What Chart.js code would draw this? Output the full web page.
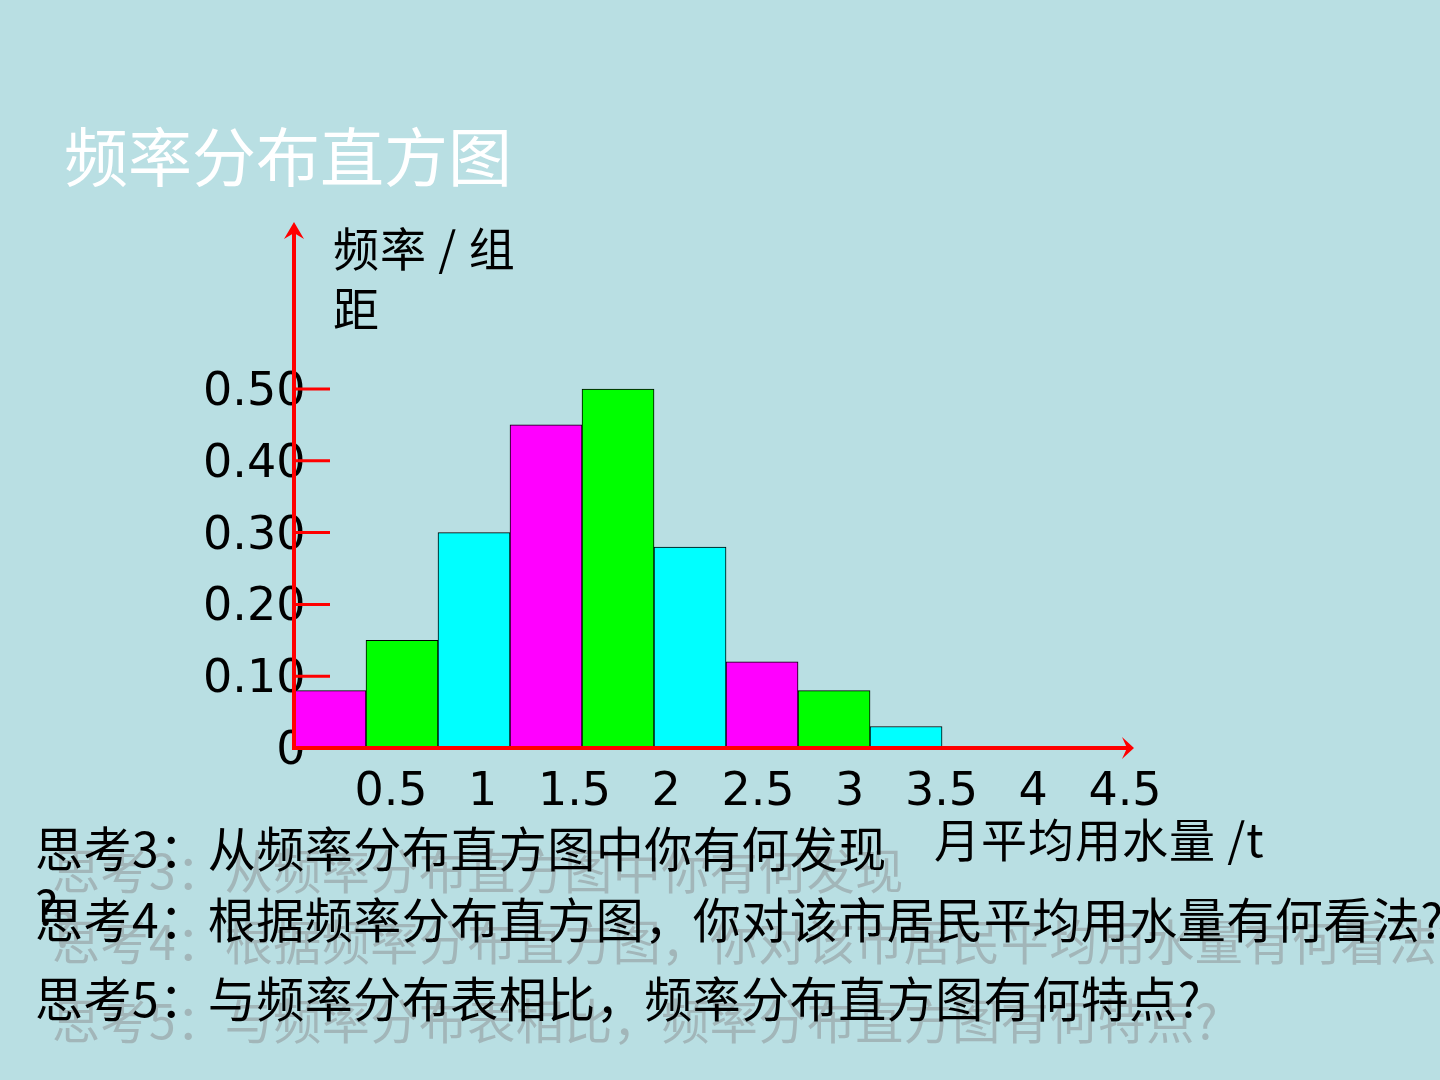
<!DOCTYPE html>
<html>
<head>
<meta charset="utf-8">
<script src="https://cdn.jsdelivr.net/npm/chart.js@4"></script>
<style>
  body { margin: 0; background: #b9dfe3; }
  #wrap { position: relative; width: 1440px; height: 1080px; overflow: hidden; }
  #c { position: absolute; left: 0; top: 0; }
  .txt { position: absolute; white-space: nowrap; font-family: "Noto Sans CJK SC", "DejaVu Sans", sans-serif; }
  .q { font-size: 48px; line-height: 60px; color: #000; letter-spacing: 0.5px; }
  .ghost { color: #a2b6b9; }
</style>
</head>
<body>
<div id="wrap">
  <canvas id="c" width="1440" height="1080"></canvas>
  <div class="txt" style="left:64px;top:107px;font-size:64px;color:#fff;">频率分布直方图</div>
  <div class="txt" style="left:333px;top:216px;font-size:46px;line-height:60px;color:#000;letter-spacing:1px;">频率 / 组<br>距</div>
  <div class="txt" style="left:934px;top:807px;font-size:46px;line-height:60px;color:#000;letter-spacing:1px;">月平均用水量 /t</div>

  <div class="txt q ghost" style="left:52px;top:839px;line-height:58px;">思考3：从频率分布直方图中你有何发现<br>?</div>
  <div class="txt q ghost" style="left:52px;top:909px;">思考4：根据频率分布直方图，你对该市居民平均用水量有何看法?</div>
  <div class="txt q ghost" style="left:52px;top:988px;">思考5：与频率分布表相比，频率分布直方图有何特点?</div>

  <div class="txt q" style="left:35px;top:817px;line-height:58px;">思考3：从频率分布直方图中你有何发现<br>?</div>
  <div class="txt q" style="left:35px;top:887px;">思考4：根据频率分布直方图，你对该市居民平均用水量有何看法?</div>
  <div class="txt q" style="left:35px;top:966px;">思考5：与频率分布表相比，频率分布直方图有何特点?</div>
</div>
<script>
// bins of monthly water use (t), left edges, width 0.5
var binLeft = [0, 0.5, 1, 1.5, 2, 2.5, 3, 3.5, 4];
var binWidth = 0.5;
// frequency / class width
var freqDensity = [0.08, 0.15, 0.30, 0.45, 0.50, 0.28, 0.12, 0.08, 0.03];
var barColors = ['#ff00ff', '#00ff00', '#00ffff'];

var yTickValues = [0, 0.1, 0.2, 0.3, 0.4, 0.5];
var yTickLabels = ['0', '0.10', '0.20', '0.30', '0.40', '0.50'];
var xTickValues = [0.5, 1, 1.5, 2, 2.5, 3, 3.5, 4, 4.5];
var xTickLabels = ['0.5', '1', '1.5', '2', '2.5', '3', '3.5', '4', '4.5'];

var points = binLeft.map(function(l, i) {
  return { x: l + binWidth / 2, y: freqDensity[i] };
});

// red axes with arrow heads and short inward tick marks
var axesPlugin = {
  id: 'redAxes',
  afterDatasetsDraw: function(chart) {
    var ctx = chart.ctx;
    var a = chart.chartArea;
    var y = chart.scales.y;
    var x0 = a.left, y0 = y.getPixelForValue(0);
    ctx.save();
    ctx.strokeStyle = '#ff0000';
    ctx.fillStyle = '#ff0000';
    ctx.lineWidth = 4;
    ctx.beginPath();
    ctx.moveTo(x0, y0 + 2);
    ctx.lineTo(x0, a.top + 10);
    ctx.moveTo(x0 - 2, y0);
    ctx.lineTo(a.right - 6, y0);
    ctx.stroke();
    // arrow heads
    ctx.beginPath();
    ctx.moveTo(x0, a.top);
    ctx.lineTo(x0 + 10, a.top + 17);
    ctx.lineTo(x0, a.top + 11);
    ctx.lineTo(x0 - 10, a.top + 17);
    ctx.closePath();
    ctx.fill();
    ctx.beginPath();
    ctx.moveTo(a.right + 1, y0);
    ctx.lineTo(a.right - 11, y0 - 11);
    ctx.lineTo(a.right - 6, y0);
    ctx.lineTo(a.right - 11, y0 + 11);
    ctx.closePath();
    ctx.fill();
    // tick marks
    ctx.lineWidth = 3;
    ctx.beginPath();
    yTickValues.forEach(function(v) {
      if (v === 0) return;
      var py = y.getPixelForValue(v);
      ctx.moveTo(x0, py);
      ctx.lineTo(x0 + 36, py);
    });
    ctx.stroke();
    ctx.restore();
  }
};

var ctx = document.getElementById('c');
var config = {
  type: 'bar',
  data: {
    datasets: [{
      data: points,
      xAxisID: 'x',
      yAxisID: 'y',
      backgroundColor: points.map(function(p, i) { return barColors[i % 3]; }),
      borderColor: '#000',
      borderWidth: 1,
      barPercentage: 1,
      categoryPercentage: 1
    }]
  },
  options: {
    responsive: false,
    animation: false,
    layout: { padding: { left: 294, right: 307, top: 222, bottom: 252 } },
    plugins: { legend: { display: false }, tooltip: { enabled: false }, title: { display: false } },
    scales: {
      x: {
        type: 'linear',
        display: false,
        offset: false,
        min: 0,
        max: 5.826
      },
      x2: {
        type: 'linear',
        position: 'bottom',
        offset: false,
        min: -0.0286,
        max: 4.5436,
        grid: { display: false, drawTicks: false, offset: false },
        border: { display: false },
        afterBuildTicks: function(scale) {
          scale.ticks = xTickValues.map(function(v) { return { value: v }; });
        },
        afterFit: function(scale) { scale.height = 80; },
        ticks: {
          padding: 17,
          autoSkip: false,
          maxRotation: 0,
          color: '#000',
          font: { family: 'DejaVu Sans', size: 46 },
          callback: function(v, i) { return xTickLabels[i]; }
        }
      },
      y: {
        type: 'linear',
        position: 'left',
        z: 1,
        min: 0,
        max: 0.7326,
        grid: { display: false, drawTicks: false },
        border: { display: false },
        afterBuildTicks: function(scale) {
          scale.ticks = yTickValues.map(function(v) { return { value: v }; });
        },
        afterFit: function(scale) { scale.width = 0; },
        ticks: {
          mirror: true,
          crossAlign: 'far',
          padding: -91,
          labelOffset: 4,
          color: '#000',
          font: { family: 'DejaVu Sans', size: 46 },
          callback: function(v, i) { return yTickLabels[i]; }
        }
      }
    }
  },
  plugins: [axesPlugin]
};

var chart = new Chart(ctx, config);
</script>
</body>
</html>
